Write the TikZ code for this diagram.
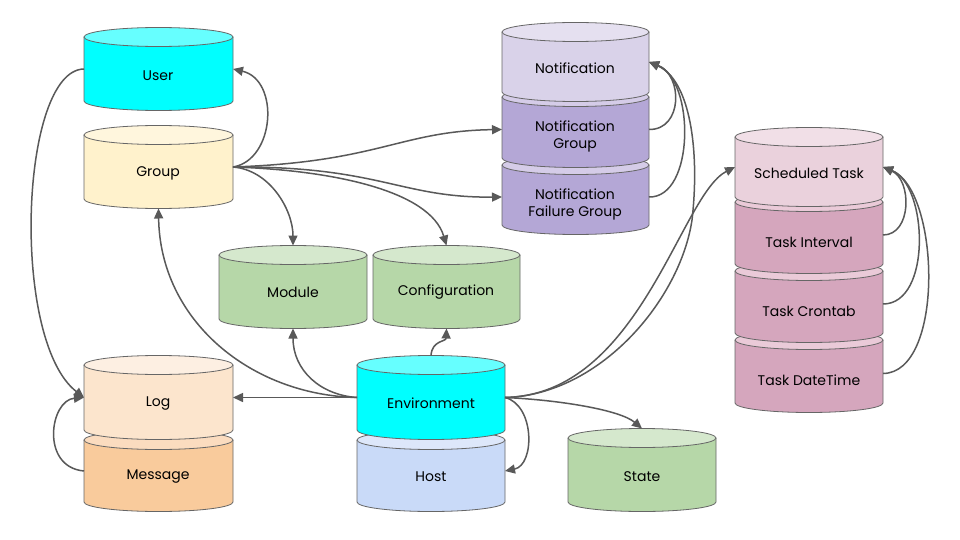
\documentclass[tikz,border=0pt]{standalone}
\usepackage{fontspec}
\setmainfont{Poppins}
\usetikzlibrary{arrows.meta}
\definecolor{edgecol}{HTML}{595959}
\definecolor{outcol}{HTML}{666666}
\definecolor{cyanBody}{HTML}{00FFFF}
\definecolor{cyanCap}{HTML}{66FFFF}
\definecolor{groupBody}{HTML}{FFF2CC}
\definecolor{groupCap}{HTML}{FFF6DD}
\definecolor{notifBody}{HTML}{D9D2E9}
\definecolor{notifCap}{HTML}{E5E0F0}
\definecolor{notifGBody}{HTML}{B4A7D6}
\definecolor{notifGCap}{HTML}{D5CCE8}
\definecolor{schedBody}{HTML}{EAD1DC}
\definecolor{schedCap}{HTML}{F1DFE7}
\definecolor{taskBody}{HTML}{D5A6BD}
\definecolor{taskCap}{HTML}{EACAD8}
\definecolor{logBody}{HTML}{FCE5CD}
\definecolor{logCap}{HTML}{FDEFE2}
\definecolor{msgBody}{HTML}{F9CB9C}
\definecolor{msgCap}{HTML}{FBDCBF}
\definecolor{hostBody}{HTML}{C9DAF8}
\definecolor{hostCap}{HTML}{DDE7FA}
\definecolor{greenBody}{HTML}{B6D7A8}
\definecolor{greenCap}{HTML}{D5E8CD}
\def\dbry{9.5}
\newcommand{\dbcyl}[7]{%
  \pgfmathsetmacro\dbcx{(#2+#3)/2}%
  \pgfmathsetmacro\dbrx{(#3-#2)/2}%
  \pgfmathsetmacro\dbkx{0.5523*\dbrx}%
  \pgfmathsetmacro\dbky{0.5523*\dbry}%
  \pgfmathsetmacro\dbcy{(#4+#5)/2}%
  \pgfmathsetmacro\dbw{#3-#2}%
  \pgfmathsetmacro\dbh{#5-#4+2*\dbry}%
  \filldraw[cylline, fill=#6] (#2,#4) -- (#2,#5) .. controls (#2,#5+\dbky) and (\dbcx-\dbkx,#5+\dbry) .. (\dbcx,#5+\dbry) .. controls (\dbcx+\dbkx,#5+\dbry) and (#3,#5+\dbky) .. (#3,#5) -- (#3,#4);
  \filldraw[cylline, fill=#7] (\dbcx,#4) ellipse [x radius=\dbrx pt, y radius=\dbry pt];
  \node[cylbox, minimum width=\dbw pt, minimum height=\dbh pt] (#1) at (\dbcx,\dbcy) {};
}
\tikzset{
  cylline/.style={draw=outcol, line width=0.8pt},
  cylbox/.style={rectangle, draw=none, inner sep=0pt, outer sep=0pt},
  lbl/.style={font=\fontsize{14}{16.5}\selectfont, align=center, text=black, inner sep=0pt},
  arr/.style={draw=edgecol, line width=1.5pt, -{Triangle[length=10pt,width=9pt]}},
}
\begin{document}
\begin{tikzpicture}[x=1pt,y=-1pt]
\useasboundingbox[fill=white] (0,0) rectangle (960,540);
% left column
\dbcyl{user}{84}{233}{37}{101}{cyanBody}{cyanCap}
\dbcyl{group}{84}{233}{135}{199}{groupBody}{groupCap}
\dbcyl{message}{84}{233}{440}{502}{msgBody}{msgCap}
\dbcyl{log}{84}{233}{365}{430}{logBody}{logCap}
% middle
\dbcyl{module}{219}{367}{255}{319}{greenBody}{greenCap}
\dbcyl{config}{373}{520}{255}{319}{greenBody}{greenCap}
\dbcyl{host}{357}{505}{440}{502}{hostBody}{hostCap}
\dbcyl{env}{357}{505}{365}{430}{cyanBody}{cyanCap}
\dbcyl{state}{568}{716}{438}{502}{greenBody}{greenCap}
% notification stack
\dbcyl{notiffail}{502}{649}{165}{225}{notifGBody}{notifGCap}
\dbcyl{notifgroup}{502}{649}{97}{158}{notifGBody}{notifGCap}
\dbcyl{notification}{502}{649}{32}{92}{notifBody}{notifCap}
% scheduled stack
\dbcyl{datetime}{735}{883}{340}{403}{taskBody}{taskCap}
\dbcyl{crontab}{735}{883}{271}{333}{taskBody}{taskCap}
\dbcyl{interval}{735}{883}{202}{264}{taskBody}{taskCap}
\dbcyl{sched}{735}{883}{137}{197}{schedBody}{schedCap}
% labels
\node[lbl] (user-l) at (158,75.5) {User};
\node[lbl] (group-l) at (158,173.5) {Group};
\node[lbl] (log-l) at (158,403.5) {Log};
\node[lbl] (message-l) at (158,476.5) {Message};
\node[lbl] (module-l) at (293,292.5) {Module};
\node[lbl] (config-l) at (446,292.5) {Configuration};
\node[lbl] (env-l) at (431,403.5) {Environment};
\node[lbl] (host-l) at (431,476.5) {Host};
\node[lbl] (state-l) at (642,476.5) {State};
\node[lbl] (notification-l) at (575,68.5) {Notification};
\node[lbl] (notifgroup-l) at (575,136.5) {Notification\\Group};
\node[lbl] (notiffail-l) at (575,204.5) {Notification\\Failure Group};
\node[lbl] (sched-l) at (809,173.5) {Scheduled Task};
\node[lbl] (interval-l) at (809,242.5) {Task Interval};
\node[lbl] (crontab-l) at (809,311.5) {Task Crontab};
\node[lbl] (datetime-l) at (809,380.5) {Task DateTime};
% connectors
\draw[arr] (user.west) .. controls (20,70) and (10,340) .. (log.west);
\draw[arr] (message.west) .. controls (40,467) and (50,400) .. (log.west);
\draw[arr] (group.east) .. controls (275,160) and (280,80) .. (user.east);
\draw[arr] (group.east) .. controls (380,162) and (400,131) .. ([yshift=-2pt]notifgroup.west);
\draw[arr] (group.east) .. controls (380,166) and (400,198) .. ([yshift=-2pt]notiffail.west);
\draw[arr] (group.east) .. controls (270,170) and (293,210) .. (module.north);
\draw[arr] (group.east) .. controls (330,170) and (430,190) .. (config.north);
\draw[arr] (env.west) .. controls (250,395) and (160,320) .. (group.south);
\draw[arr] (env.west) .. controls (320,395) and (293,370) .. (module.south);
\draw[arr] (env.west) -- (log.east);
\draw[arr] (env.north) .. controls (432,340) and (446,342) .. (config.south);
\draw[arr] (env.east) .. controls (535,405) and (535,465) .. (host.east);
\draw[arr] (env.east) .. controls (560,400) and (620,410) .. (state.north);
\draw[arr] (env.east) .. controls (640,395) and (680,195) .. (sched.west);
\draw[arr] (env.east) .. controls (600,395) and (680,300) .. (692,220) .. controls (700,150) and (690,80) .. (notification.east);
\draw[arr] ([yshift=-2pt]notifgroup.east) .. controls (683,130) and (683,75) .. (notification.east);
\draw[arr] ([yshift=-2pt]notiffail.east) .. controls (695,198) and (695,80) .. (notification.east);
\draw[arr] ([yshift=-2pt]interval.east) .. controls (912,235) and (912,180) .. (sched.east);
\draw[arr] ([yshift=-2pt]crontab.east) .. controls (932,304) and (928,185) .. (sched.east);
\draw[arr] ([yshift=-2pt]datetime.east) .. controls (945,373) and (940,190) .. (sched.east);
\end{tikzpicture}
\end{document}
